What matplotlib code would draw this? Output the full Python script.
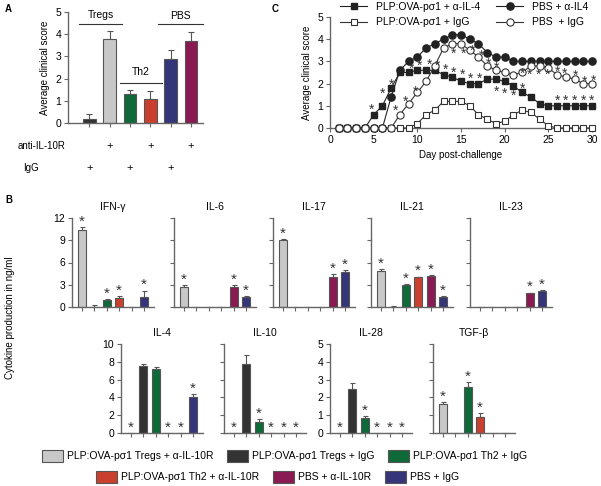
import numpy as np
import matplotlib
matplotlib.use('Agg')
import matplotlib.pyplot as plt
from matplotlib.transforms import blended_transform_factory
from matplotlib.patches import Patch

plt.rcParams['font.family'] = ['Liberation Sans', 'DejaVu Sans']
plt.rcParams['font.size'] = 7

# ---- colours of the six groups
c_treg_anti = '#c8c8c8'
c_treg_igg = '#333333'
c_th2_igg = '#0f6a3a'
c_th2_anti = '#c9402e'
c_pbs_anti = '#8a1a52'
c_pbs_igg = '#35357a'

# ---- panel A data
a_colors = [c_treg_igg, c_treg_anti, c_th2_igg, c_th2_anti, c_pbs_igg, c_pbs_anti]
a_means = [0.2, 3.8, 1.3, 1.1, 2.9, 3.7]
a_errs = [0.2, 0.35, 0.2, 0.32, 0.4, 0.42]
a_anti = [False, True, False, True, False, True]
a_igg = [True, False, True, False, True, False]

# ---- panel C data (days 1..30)
days = list(range(1, 31))
plp_il4 = [0, 0, 0, 0, 0.6, 1.0, 1.8, 2.5, 2.5, 2.6, 2.6, 2.6, 2.4, 2.3, 2.1,
           2.0, 2.0, 2.2, 2.2, 2.1, 1.9, 1.6, 1.4, 1.1, 1.0, 1.0, 1.0, 1.0, 1.0, 1.0]
pbs_il4 = [0, 0, 0, 0, 0, 0, 1.4, 2.6, 3.0, 3.2, 3.6, 3.8, 4.0, 4.2, 4.2,
           4.0, 3.8, 3.4, 3.2, 3.2, 3.0, 3.0, 3.0, 3.0, 3.0, 3.0, 3.0, 3.0, 3.0, 3.0]
plp_igg = [0, 0, 0, 0, 0, 0, 0, 0, 0, 0.2, 0.6, 0.8, 1.2, 1.2, 1.2,
           1.0, 0.6, 0.4, 0.2, 0.3, 0.6, 0.8, 0.7, 0.4, 0.1, 0, 0, 0, 0, 0]
pbs_igg = [0, 0, 0, 0, 0, 0, 0, 0.6, 1.1, 1.6, 2.1, 2.8, 3.6, 3.8, 3.8,
           3.5, 3.2, 2.8, 2.6, 2.5, 2.4, 2.5, 2.8, 2.8, 2.7, 2.4, 2.3, 2.2, 2.0, 2.0]
star_x = [4.7, 6.0, 7.0, 7.5, 8.7, 9.8, 9.3, 10.2, 11.4, 12.3, 13.2, 14.2, 15.2, 16.1, 17.1,
          14.1, 15.3, 16.3, 17.3, 18.1, 19.1, 19.1, 20.0, 21.0, 22.1, 22.0, 22.9, 23.9, 24.9,
          26.0, 26.9, 28.1, 29.2, 30.2, 26, 27, 28, 29, 30]
star_y = [0.9, 1.6, 2.0, 0.85, 1.25, 1.7, 2.75, 2.85, 2.9, 2.85, 2.7, 2.55, 2.45, 2.3, 2.3,
          3.4, 3.4, 3.55, 3.3, 2.95, 2.8, 1.7, 1.6, 1.5, 1.85, 2.5, 2.45, 2.45, 2.45,
          2.6, 2.5, 2.4, 2.15, 2.2, 1.28, 1.28, 1.28, 1.28, 1.28]

# ---- panel B data (order: Tregs+aIL10R, Tregs+IgG, Th2+IgG, Th2+aIL10R, PBS+aIL10R, PBS+IgG)
b_colors = [c_treg_anti, c_treg_igg, c_th2_igg, c_th2_anti, c_pbs_anti, c_pbs_igg]
b_labels = ['PLP:OVA-p\u03c31 Tregs + \u03b1-IL-10R', 'PLP:OVA-p\u03c31 Tregs + IgG',
            'PLP:OVA-p\u03c31 Th2 + IgG', 'PLP:OVA-p\u03c31 Th2 + \u03b1-IL-10R',
            'PBS + \u03b1-IL-10R', 'PBS + IgG']
cyto_names = ['IFN-\u03b3', 'IL-6', 'IL-17', 'IL-21', 'IL-23', 'IL-4', 'IL-10', 'IL-28', 'TGF-\u03b2']
cyto_vals = [[10.4, 0, 1.0, 1.2, 0, 1.3],
             [2.7, 0, 0, 0, 2.7, 1.4],
             [9.0, 0, 0, 0, 4.0, 4.7],
             [4.8, 0, 2.9, 4.0, 4.2, 1.4],
             [0, 0, 0, 0, 1.9, 2.1],
             [0, 7.5, 7.2, 0, 0, 4.1],
             [0, 7.8, 1.2, 0, 0, 0],
             [0, 2.5, 0.85, 0, 0, 0],
             [1.65, 0, 2.6, 0.9, 0, 0]]
cyto_errs = [[0.4, 0.3, 0.05, 0.25, 0, 0.9],
             [0.2, 0, 0, 0, 0.25, 0.05],
             [0.15, 0, 0, 0, 0.4, 0.3],
             [0.3, 0.2, 0.2, 0.1, 0.05, 0.1],
             [0, 0, 0, 0, 0.05, 0.15],
             [0, 0.3, 0.2, 0, 0, 0.25],
             [0, 1.0, 0.4, 0, 0, 0],
             [0, 0.3, 0.08, 0, 0, 0],
             [0.1, 0, 0.25, 0.2, 0, 0]]
cyto_stars = [[1, 0, 1, 1, 0, 1],
              [1, 0, 0, 0, 1, 1],
              [1, 0, 0, 0, 1, 1],
              [1, 0, 1, 1, 1, 1],
              [0, 0, 0, 0, 1, 1],
              [1, 0, 0, 1, 1, 1],
              [1, 0, 1, 1, 1, 1],
              [1, 0, 1, 1, 1, 1],
              [1, 0, 1, 1, 0, 0]]
cyto_ymax = [12, 12, 12, 12, 12, 10, 10, 5, 5]
cyto_ystep = [3, 3, 3, 3, 3, 2, 2, 1, 1]
cyto_showlab = [True, False, False, False, False, True, False, True, False]

W, H = 601, 486
fig = plt.figure(figsize=(W / 100, H / 100), dpi=100)
SP = '#666666'


def rect(l, t, r, b):
    return [l / W, 1 - b / H, (r - l) / W, (b - t) / H]


def style(ax):
    for s in ['top', 'right']:
        ax.spines[s].set_visible(False)
    for s in ['left', 'bottom']:
        ax.spines[s].set_color(SP)
        ax.spines[s].set_linewidth(1.0)
    ax.tick_params(direction='out', length=3, width=0.8, color=SP, pad=2, labelsize=7.5)


# ================= panel A
axA = fig.add_axes(rect(68, 12, 203, 123))
style(axA)
xa = np.arange(1, 7)
axA.bar(xa, a_means, width=0.62, color=a_colors, edgecolor='#555555', linewidth=0.8, zorder=2)
axA.errorbar(xa, a_means, yerr=[np.zeros(6), a_errs], fmt='none', ecolor='#555555',
             elinewidth=0.8, capsize=2, capthick=0.8, zorder=1)
axA.set_xlim(-0.06, 6.6)
axA.set_ylim(0, 5)
axA.set_xticks(xa)
axA.set_xticklabels([])
axA.set_yticks(range(6))
axA.set_ylabel('Average clinical score', labelpad=4)
for x0, x1, yl, ytxt, txt in [(0.5, 2.6, 4.46, 4.86, 'Tregs'), (2.5, 4.6, 1.8, 2.3, 'Th2'),
                              (4.4, 6.6, 4.46, 4.82, 'PBS')]:
    axA.plot([x0, x1], [yl, yl], color='#333333', lw=0.8, clip_on=False)
    axA.text((x0 + x1) / 2, ytxt, txt, ha='center', va='center', fontsize=7.5)
tr = blended_transform_factory(axA.transData, fig.transFigure)
fig.text(18 / W, 1 - 146 / H, 'anti-IL-10R', ha='left', va='center', fontsize=7)
fig.text(23 / W, 1 - 168 / H, 'IgG', ha='left', va='center', fontsize=7)
for x, an, ig in zip(xa, a_anti, a_igg):
    if an:
        axA.text(x, 1 - 146 / H, '+', transform=tr, ha='center', va='center', fontsize=8)
    if ig:
        axA.text(x, 1 - 168 / H, '+', transform=tr, ha='center', va='center', fontsize=8)
fig.text(5 / W, 1 - 9 / H, 'A', fontsize=7, fontweight='bold', va='center')

# ================= panel C
axC = fig.add_axes(rect(330, 17, 592, 128))
style(axC)
axC.plot(days, plp_igg, '-s', color='#333333', mfc='white', mec='#333333', ms=4.6, lw=0.8,
         mew=0.8, clip_on=False, zorder=3, label='PLP:OVA-p\u03c31 + IgG')
axC.plot(days, plp_il4, '-s', color='#222222', mfc='#222222', ms=4.6, lw=0.8,
         clip_on=False, zorder=4, label='PLP:OVA-p\u03c31 + \u03b1-IL-4')
axC.plot(days, pbs_igg, '-o', color='#333333', mfc='white', mec='#333333', ms=5.2, lw=0.8,
         mew=0.8, clip_on=False, zorder=5, label='PBS  + IgG')
axC.plot(days, pbs_il4, '-o', color='#222222', mfc='#222222', ms=5.2, lw=0.8,
         clip_on=False, zorder=4, label='PBS + \u03b1-IL4')
for sx, sy in zip(star_x, star_y):
    axC.text(sx, sy, '*', ha='center', va='center_baseline', fontsize=10, color='#333333', zorder=6)
axC.set_xlim(0, 30)
axC.set_ylim(0, 5)
axC.set_xticks(range(0, 31, 5))
axC.set_yticks(range(6))
axC.set_xlabel('Day post-challenge', labelpad=4)
axC.set_ylabel('Average clinical score', labelpad=4)
h, l = axC.get_legend_handles_labels()
order = [1, 0, 3, 2]
fig.legend([h[i] for i in order], [l[i] for i in order], ncol=2, loc='upper left',
           bbox_to_anchor=(338 / W, 1.0), frameon=False, fontsize=7.5, handlelength=2.6,
           columnspacing=1.6, labelspacing=0.5, borderaxespad=0.1, borderpad=0.1)
fig.text(272 / W, 1 - 9 / H, 'C', fontsize=7, fontweight='bold', va='center')

# ================= panel B
fig.text(5 / W, 1 - 200 / H, 'B', fontsize=7, fontweight='bold', va='center')
top_left = [72, 174, 273, 371, 470]
bot_left = [121, 224, 330, 433]
xb = np.arange(1, 7)
for k in range(9):
    if k < 5:
        l0, t0, b0 = top_left[k], 218, 307
    else:
        l0, t0, b0 = bot_left[k - 5], 344, 433
    ax = fig.add_axes(rect(l0, t0, l0 + 82, b0))
    style(ax)
    vals = np.array(cyto_vals[k])
    errs = np.array(cyto_errs[k])
    ymax = cyto_ymax[k]
    ax.bar(xb, vals, width=0.66, color=b_colors, edgecolor='#555555', linewidth=0.8, zorder=2)
    m = errs > 0
    ax.errorbar(xb[m], vals[m], yerr=[np.zeros(m.sum()), errs[m]], fmt='none',
                ecolor='#555555', elinewidth=0.8, capsize=1.8, capthick=0.8, zorder=1)
    for x, v, e, s in zip(xb, vals, errs, cyto_stars[k]):
        if s:
            ax.annotate('*', (x, v + e), xytext=(0, 5), textcoords='offset points',
                        ha='center', va='center_baseline', fontsize=11, color='#333333')
    ax.set_xlim(0.2, 6.8)
    ax.set_ylim(0, ymax)
    ax.set_xticks(xb)
    ax.set_xticklabels([])
    ax.set_yticks(np.arange(0, ymax + 0.01, cyto_ystep[k]))
    if not cyto_showlab[k]:
        ax.set_yticklabels([])
    ax.set_title(cyto_names[k], fontsize=7.5, pad=6)

fig.text(10 / W, 1 - 318 / H, 'Cytokine production in ng/ml', rotation=90,
         ha='center', va='center', fontsize=7)

patches = [Patch(facecolor=c, edgecolor='#555555', linewidth=0.8) for c in b_colors]
fig.legend(patches[:3], b_labels[:3], ncol=3, loc='center', bbox_to_anchor=(0.474, 1 - 456 / H),
           frameon=False, fontsize=7.5, handlelength=2.0, handleheight=1.4, columnspacing=1.3,
           handletextpad=0.4)
fig.legend(patches[3:], b_labels[3:], ncol=3, loc='center', bbox_to_anchor=(0.462, 1 - 477 / H),
           frameon=False, fontsize=7.5, handlelength=2.0, handleheight=1.4, columnspacing=1.3,
           handletextpad=0.4)

fig.savefig('out.png', dpi=100)
